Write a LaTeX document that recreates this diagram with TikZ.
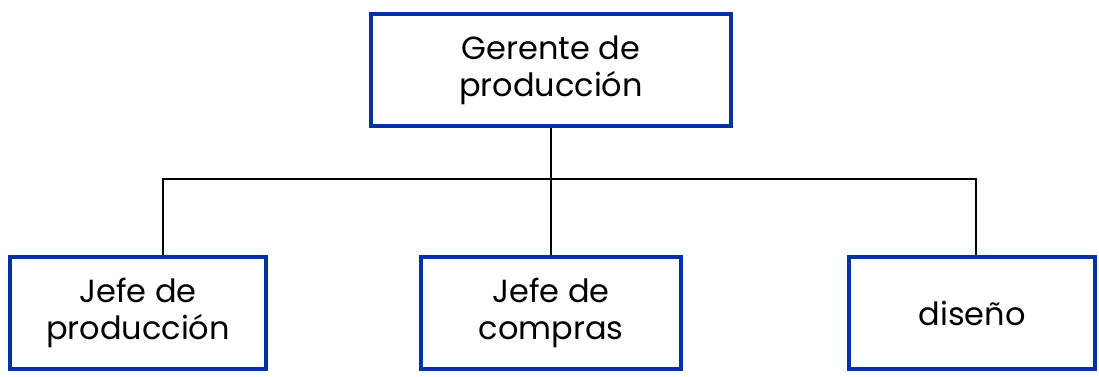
\documentclass[tikz,border=0pt]{standalone}
\usepackage{fontspec}
\setmainfont{Poppins}
\definecolor{cajaazul}{HTML}{0033A0}
\tikzset{
    puesto/.style = {draw=cajaazul, line width=4pt, align=center,
        minimum height=112pt, font=\fontsize{32}{37}\selectfont},
    linea/.style = {draw=black, line width=1.4pt}
}
\begin{document}
\begin{tikzpicture}[x=1pt, y=-1pt]
            \useasboundingbox (0,0) rectangle (1099,377);
            \matrix (org) [matrix anchor=gerente.center, row sep={243pt,between origins},
                column sep={413pt,between origins}] at (551,70) {
                & \node[puesto, minimum width=360pt] (gerente) {Gerente de\\producción}; &[8pt] \\
                \node[puesto, minimum width=256pt] (jefeprod) {Jefe de\\producción}; &
                \node[puesto, minimum width=259pt] (jefecomp) {Jefe de\\compras}; &[8pt]
                \node[puesto, minimum width=246pt] (diseno) {diseño}; \\
            };
            \coordinate (bus) at (551,179);
            \draw[linea] (gerente.south) -- (jefecomp.north);
            \draw[linea] ([xshift=25pt]jefeprod.north) |- (bus) -| ([xshift=4pt]diseno.north);
        \end{tikzpicture}
\end{document}
